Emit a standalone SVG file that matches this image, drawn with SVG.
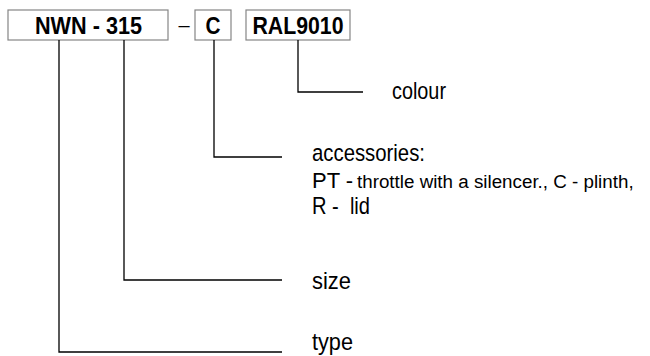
<svg xmlns="http://www.w3.org/2000/svg" width="650" height="356" viewBox="0 0 650 356">
<style>
.box{fill:#fff;stroke:#858585;stroke-width:1.2}
.bt{font-family:"Liberation Sans",Arial,sans-serif;font-weight:bold;font-size:23px;fill:#000;text-anchor:middle}
.lb{font-family:"Liberation Sans",Arial,sans-serif;font-size:24.5px;fill:#000;white-space:pre}
.cn{fill:none;stroke:#000;stroke-width:1.3}
</style>
<rect width="650" height="356" fill="#fff"/>
<g id="node-type-size">
<rect class="box" x="8" y="10" width="160" height="30"/>
<text class="bt" x="88.5" y="33.5" textLength="107" lengthAdjust="spacingAndGlyphs">NWN - 315</text>
</g>
<g id="node-dash">
<text class="lb" x="184" y="32" text-anchor="middle" style="font-size:20px">–</text>
</g>
<g id="node-accessory">
<rect class="box" x="195" y="10" width="36" height="30"/>
<text class="bt" x="213" y="33.5" textLength="15" lengthAdjust="spacingAndGlyphs">C</text>
</g>
<g id="node-colour">
<rect class="box" x="246" y="10" width="104" height="30"/>
<text class="bt" x="298" y="33.5" textLength="91" lengthAdjust="spacingAndGlyphs">RAL9010</text>
</g>
<g id="connectors">
<path class="cn" d="M298 40V92H363"/>
<path class="cn" d="M214 40V157H282"/>
<path class="cn" d="M124 40V280H282"/>
<path class="cn" d="M59 40V352H282"/>
</g>
<g id="label-colour">
<text class="lb" x="392" y="99" textLength="54" lengthAdjust="spacingAndGlyphs">colour</text>
</g>
<g id="label-accessories">
<text class="lb" x="312" y="161" textLength="113" lengthAdjust="spacingAndGlyphs">accessories:</text>
<text class="lb" x="312" y="188" style="font-size:22px">PT -</text>
<text class="lb" x="357" y="188" style="font-size:18.8px">throttle with a silencer., C - plinth,</text>
<text class="lb" x="312" y="214" textLength="58" lengthAdjust="spacingAndGlyphs">R -  lid</text>
</g>
<g id="label-size">
<text class="lb" x="312" y="289" textLength="39" lengthAdjust="spacingAndGlyphs">size</text>
</g>
<g id="label-type">
<text class="lb" x="312" y="350" textLength="41" lengthAdjust="spacingAndGlyphs">type</text>
</g>
</svg>
